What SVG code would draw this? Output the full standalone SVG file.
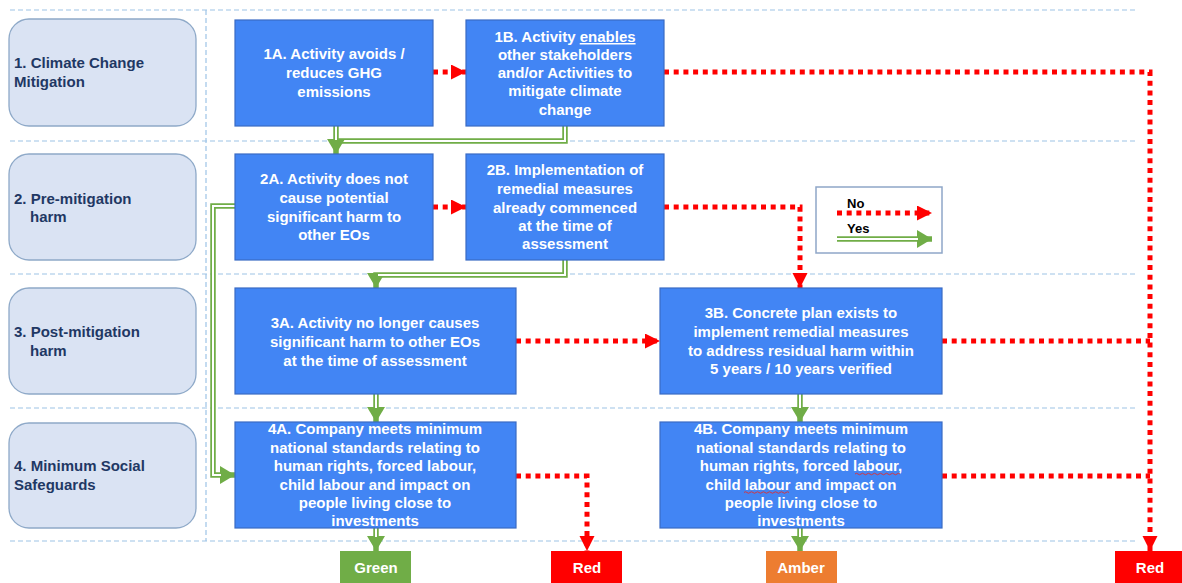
<svg xmlns="http://www.w3.org/2000/svg" width="1182" height="583" viewBox="0 0 1182 583">
<style>
  .sep { stroke: #9DC3E6; stroke-width: 1.2; stroke-dasharray: 5 3; fill: none; }
  .lbl rect { fill: #DAE3F3; stroke: #8EA9C8; stroke-width: 1.3; }
  .lbl text { font-family: "Liberation Sans", Arial, sans-serif; font-weight: bold; font-size: 15px; fill: #1F3864; }
  .box rect { fill: #4285F4; stroke: #3A6BC4; stroke-width: 1.2; }
  .box text, .out text { font-family: "Liberation Sans", Arial, sans-serif; font-weight: bold; font-size: 15px; fill: #FFFFFF; text-anchor: middle; }
  .no { stroke: #FF0000; stroke-width: 5; stroke-dasharray: 5 4.7; fill: none; }
  .yes { stroke: #70AD47; stroke-width: 5.5; fill: none; }
  .yesin { stroke: #FFFFFF; stroke-width: 2; fill: none; }
  .leg text { font-family: "Liberation Sans", Arial, sans-serif; font-weight: bold; font-size: 13px; fill: #000000; }
  .squig { stroke: #E03030; stroke-width: 0.9; fill: none; }
</style>
<defs>
  <marker id="ar" markerUnits="userSpaceOnUse" markerWidth="16" markerHeight="16" refX="15" refY="7.5" orient="auto" viewBox="0 0 16 16">
    <path d="M0,0 L15,7.5 L0,15 z" fill="#FF0000"/>
  </marker>
  <marker id="ag" markerUnits="userSpaceOnUse" markerWidth="18" markerHeight="20" refX="15" refY="9" orient="auto" viewBox="0 0 18 20">
    <path d="M0,0 L15,9 L0,18 z" fill="#70AD47"/>
  </marker>
</defs>
<rect x="0" y="0" width="1182" height="583" fill="#FFFFFF"/>

<g id="separators">
  <line class="sep" x1="10" y1="10" x2="1138" y2="10"/>
  <line class="sep" x1="10" y1="141" x2="1138" y2="141"/>
  <line class="sep" x1="10" y1="274" x2="1138" y2="274"/>
  <line class="sep" x1="10" y1="408" x2="1138" y2="408"/>
  <line class="sep" x1="10" y1="541" x2="1138" y2="541"/>
  <line class="sep" x1="206" y1="10" x2="206" y2="541"/>
</g>

<g id="label1" class="lbl">
  <rect x="9" y="19" width="187" height="107" rx="20"/>
  <text x="14" y="68">1. Climate Change</text>
  <text x="14" y="87">Mitigation</text>
</g>
<g id="label2" class="lbl">
  <rect x="9" y="154" width="187" height="106" rx="20"/>
  <text x="14" y="204">2. Pre-mitigation</text>
  <text x="30" y="222">harm</text>
</g>
<g id="label3" class="lbl">
  <rect x="9" y="288" width="187" height="106" rx="20"/>
  <text x="14" y="337">3. Post-mitigation</text>
  <text x="30" y="356">harm</text>
</g>
<g id="label4" class="lbl">
  <rect x="9" y="423" width="187" height="105" rx="20"/>
  <text x="14" y="471">4. Minimum Social</text>
  <text x="14" y="490">Safeguards</text>
</g>

<g id="connectors">
  <!-- No (red dotted) -->
  <path class="no" d="M433,72 H466" marker-end="url(#ar)"/>
  <path class="no" d="M664,72 H1150 V551" marker-end="url(#ar)"/>
  <path class="no" d="M433,207 H466" marker-end="url(#ar)"/>
  <path class="no" d="M664,207 H800 V288" marker-end="url(#ar)"/>
  <path class="no" d="M516,341 H660" marker-end="url(#ar)"/>
  <path class="no" d="M942,341 H1150"/>
  <path class="no" d="M516,476 H587 V551" marker-end="url(#ar)"/>
  <path class="no" d="M942,476 H1150"/>
  <!-- Yes (green double) -->
  <path class="yes" d="M565,126 V141 H338"/>
  <path class="yesin" d="M565,126 V141 H339"/>
  <path class="yes" d="M336,126 V154" marker-end="url(#ag)"/>
  <path class="yesin" d="M336,126 V140"/>
  <path class="yes" d="M565,260 V275 H376 V288" marker-end="url(#ag)"/>
  <path class="yesin" d="M565,260 V275 H378"/>
  <path class="yes" d="M235,206 H213 V475 H235" marker-end="url(#ag)"/>
  <path class="yesin" d="M235,206 H213 V475 H221"/>
  <path class="yes" d="M376,394 V422" marker-end="url(#ag)"/>
  <path class="yesin" d="M376,394 V408"/>
  <path class="yes" d="M800,394 V422" marker-end="url(#ag)"/>
  <path class="yesin" d="M800,394 V408"/>
  <path class="yes" d="M376,528 V551" marker-end="url(#ag)"/>
  <path class="yesin" d="M376,528 V537"/>
  <path class="yes" d="M800,528 V551" marker-end="url(#ag)"/>
  <path class="yesin" d="M800,528 V537"/>
</g>

<g id="n1A" class="box">
  <rect x="235" y="20" width="198" height="106"/>
  <text x="334" y="59">1A. Activity avoids /</text>
  <text x="334" y="78">reduces GHG</text>
  <text x="334" y="97">emissions</text>
</g>
<g id="n1B" class="box">
  <rect x="466" y="20" width="198" height="106"/>
  <text x="565" y="42">1B. Activity <tspan text-decoration="underline">enables</tspan></text>
  <text x="565" y="60">other stakeholders</text>
  <text x="565" y="78">and/or Activities to</text>
  <text x="565" y="96">mitigate climate</text>
  <text x="565" y="115">change</text>
</g>
<g id="n2A" class="box">
  <rect x="235" y="154" width="198" height="106"/>
  <text x="334" y="184">2A. Activity does not</text>
  <text x="334" y="203">cause potential</text>
  <text x="334" y="222">significant harm to</text>
  <text x="334" y="240">other EOs</text>
</g>
<g id="n2B" class="box">
  <rect x="466" y="154" width="198" height="106"/>
  <text x="565" y="175">2B. Implementation of</text>
  <text x="565" y="194">remedial measures</text>
  <text x="565" y="213">already commenced</text>
  <text x="565" y="231">at the time of</text>
  <text x="565" y="249">assessment</text>
</g>
<g id="n3A" class="box">
  <rect x="235" y="288" width="281" height="106"/>
  <text x="375" y="328">3A. Activity no longer causes</text>
  <text x="375" y="347">significant harm to other EOs</text>
  <text x="375" y="366">at the time of assessment</text>
</g>
<g id="n3B" class="box">
  <rect x="660" y="288" width="282" height="106"/>
  <text x="801" y="318">3B. Concrete plan exists to</text>
  <text x="801" y="337">implement remedial measures</text>
  <text x="801" y="356">to address residual harm within</text>
  <text x="801" y="374">5 years / 10 years verified</text>
</g>
<g id="n4A" class="box">
  <rect x="235" y="422" width="281" height="106"/>
  <text x="375" y="434">4A. Company meets minimum</text>
  <text x="375" y="453">national standards relating to</text>
  <text x="375" y="471">human rights, forced labour,</text>
  <text x="375" y="490">child labour and impact on</text>
  <text x="375" y="508">people living close to</text>
  <text x="375" y="526">investments</text>
</g>
<g id="n4B" class="box">
  <rect x="660" y="422" width="282" height="106"/>
  <text x="801" y="434">4B. Company meets minimum</text>
  <text x="801" y="453">national standards relating to</text>
  <text x="801" y="471">human rights, forced labour,</text>
  <text x="801" y="490">child labour and impact on</text>
  <text x="801" y="508">people living close to</text>
  <text x="801" y="526">investments</text>
  <path class="squig" d="M855,474 q1.5,-1.5 3,0 t3,0 t3,0 t3,0 t3,0 t3,0 t3,0 t3,0 t3,0 t3,0 t3,0 t3,0 t3,0 t3,0 t3,0"/>
  <path class="squig" d="M744,492.5 q1.5,-1.5 3,0 t3,0 t3,0 t3,0 t3,0 t3,0 t3,0 t3,0 t3,0 t3,0 t3,0 t3,0 t3,0 t3,0 t3,0"/>
</g>

<g id="legend" class="leg">
  <rect x="816" y="187" width="126" height="66" fill="#FFFFFF" stroke="#8FA6C8" stroke-width="1.5"/>
  <text x="847" y="208">No</text>
  <path class="no" d="M837,213 H932" marker-end="url(#ar)"/>
  <text x="847" y="233">Yes</text>
  <path class="yes" d="M837,239 H932" marker-end="url(#ag)"/>
  <path class="yesin" d="M837,239 H918"/>
</g>

<g id="outGreen" class="out">
  <rect x="340" y="551" width="71" height="32" fill="#70AD47"/>
  <text x="376" y="573">Green</text>
</g>
<g id="outRed1" class="out">
  <rect x="551" y="551" width="71" height="32" fill="#FF0000"/>
  <text x="587" y="573">Red</text>
</g>
<g id="outAmber" class="out">
  <rect x="766" y="551" width="71" height="32" fill="#ED7D31"/>
  <text x="801" y="573">Amber</text>
</g>
<g id="outRed2" class="out">
  <rect x="1115" y="551" width="70" height="32" fill="#FF0000"/>
  <text x="1150" y="573">Red</text>
</g>
</svg>
